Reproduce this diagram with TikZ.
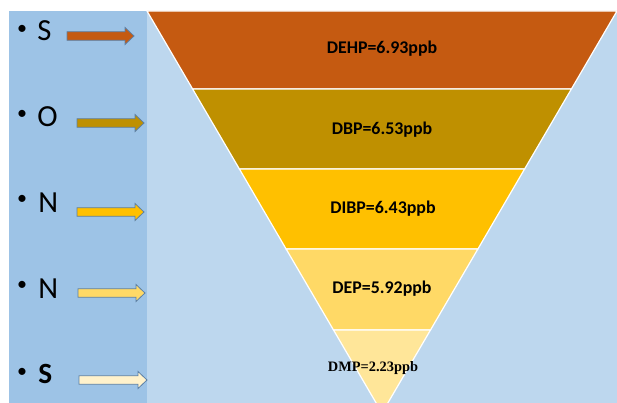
\documentclass[tikz,border=0pt]{standalone}
\usepackage{fontspec}
\setmainfont{Carlito}
\newfontfamily\timesfont{Liberation Serif}
\definecolor{panelL}{HTML}{9DC3E6}
\definecolor{panelR}{HTML}{BDD7EE}
\definecolor{cDEHP}{HTML}{C55A11}
\definecolor{cDBP}{HTML}{BF9000}
\definecolor{cDIBP}{HTML}{FFC000}
\definecolor{cDEP}{HTML}{FFD966}
\definecolor{cDMP}{HTML}{FFE699}
\definecolor{cLast}{HTML}{FFF2CC}
\definecolor{arrowEdge}{HTML}{5B7FA6}
\tikzset{
  layer/.style={draw=white, line width=0.9pt},
  lab/.style={font=\fontsize{13.4}{14}\selectfont\bfseries, text=black, inner sep=0pt},
  letter/.style={font=\fontsize{23}{23}\selectfont, anchor=base west, inner sep=0pt},
  bul/.style={font=\fontsize{15}{15}\selectfont, inner sep=0pt},
  fatarrow/.style={draw=arrowEdge, line width=0.6pt, line join=miter}
}
\newcommand{\fatarr}[4]{% x1, x2 (tip), y, colour
  \path[fatarrow, fill=#4] (#1,#3-4.3) -- (#2-9,#3-4.3) -- (#2-9,#3-8.5) -- (#2,#3)
     -- (#2-9,#3+8.5) -- (#2-9,#3+4.3) -- (#1,#3+4.3) -- cycle;}
\begin{document}
\begin{tikzpicture}[x=0.75pt,y=-0.75pt]
\useasboundingbox (0,0) rectangle (617,403);
\clip (0,0) rectangle (617,403);
% backgrounds
\fill[panelL] (9,11) rectangle (146.5,403);
\fill[panelR] (146.5,11) rectangle (617,403);
% funnel layers
\path[layer, fill=cDEHP] (147,11) -- (617,11) -- (571.4,89) -- (192.6,89) -- cycle;
\path[layer, fill=cDBP] (192.6,89) -- (571.4,89) -- (524.6,169) -- (239.4,169) -- cycle;
\path[layer, fill=cDIBP] (239.4,169) -- (524.6,169) -- (477.9,249) -- (286.1,249) -- cycle;
\path[layer, fill=cDEP] (286.1,249) -- (477.9,249) -- (430.5,330) -- (333.5,330) -- cycle;
\path[layer, fill=cDMP] (333.5,330) -- (430.5,330) -- (382,413) -- cycle;
% labels
\node[lab] (dehp) at (382,49) {DEHP=6.93ppb};
\node[lab] (dbp) at (382,130) {DBP=6.53ppb};
\node[lab] (dibp) at (383,209) {DIBP=6.43ppb};
\node[lab] (dep) at (382,289) {DEP=5.92ppb};
\node[inner sep=0pt, font=\timesfont\fontsize{10.8}{11}\selectfont\bfseries] (dmp) at (373,368) {DMP=2.23ppb};
% bullets and letters
\node[bul] (b1) at (22,30) {•};
\node[letter] (l1) at (37,41) {S};
\node[bul] (b2) at (22,115) {•};
\node[letter] (l2) at (37,126) {O};
\node[bul] (b3) at (22,200) {•};
\node[letter] (l3) at (38,212) {N};
\node[bul] (b4) at (22,286) {•};
\node[letter] (l4) at (38,298) {N};
\node[bul] (b5) at (22,373) {•};
\node[letter, font=\fontsize{22}{22}\selectfont\bfseries] (l5) at (38,383) {S};
% arrows
\fatarr{67}{134}{36}{cDEHP}
\fatarr{77}{144}{123}{cDBP}
\fatarr{77}{144}{212}{cDIBP}
\fatarr{78}{145}{293}{cDEP}
\fatarr{79}{147}{380}{cLast}
\end{tikzpicture}
\end{document}
